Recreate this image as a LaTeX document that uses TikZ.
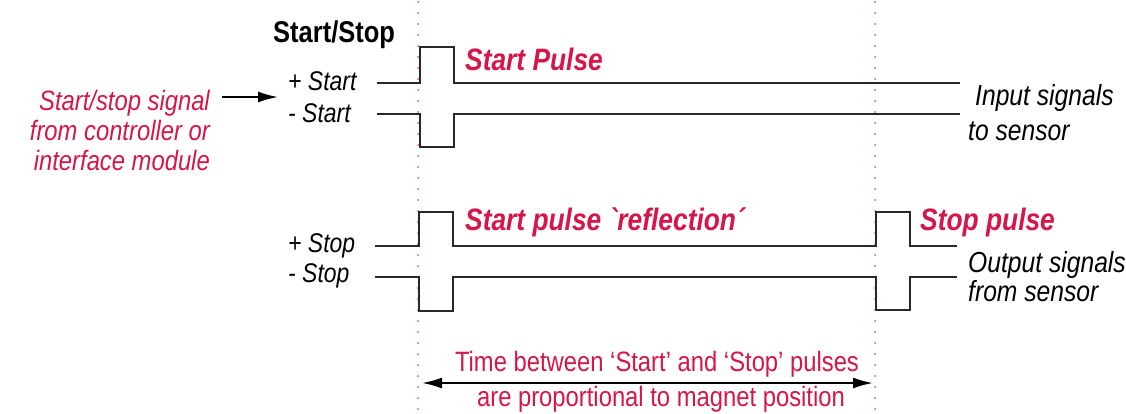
\documentclass[tikz,border=0pt]{standalone}
\usepackage{fontspec}
\setmainfont{Liberation Sans}[FakeStretch=0.85, Ligatures=TeXOff]
\usetikzlibrary{arrows.meta}
\definecolor{txtred}{RGB}{214,22,72}
\definecolor{dotred}{RGB}{228,80,125}
\definecolor{wave}{RGB}{40,40,40}
\tikzset{
  lbl/.style={font=\fontsize{27}{30}\selectfont\itshape, text=black, inner sep=0pt, anchor=base west},
  redlbl/.style={font=\fontsize{31}{33}\selectfont\bfseries\itshape, text=txtred, inner sep=0pt, anchor=base west},
  sidelbl/.style={font=\fontsize{28}{30}\selectfont\itshape, text=txtred, inner sep=0pt, anchor=base east},
  timelbl/.style={font=\fontsize{28}{30}\selectfont, text=txtred, inner sep=0pt, anchor=base},
  outlbl/.style={font=\fontsize{29}{30}\selectfont\itshape, text=black, inner sep=0pt, anchor=base west},
  wavey/.style={draw=wave, line width=2.2pt, line join=miter},
  guide/.style={draw=dotred, line width=2pt, dash pattern=on 0pt off 11pt, line cap=round},
  arr/.style={draw=black, line width=1.8pt, -{Latex[length=20pt,width=11pt]}},
  darr/.style={draw=black, line width=2pt, {Latex[length=20pt,width=11pt]}-{Latex[length=20pt,width=11pt]}},
}
\begin{document}
\begin{tikzpicture}[x=1pt,y=-1pt]
\useasboundingbox (0,0) rectangle (1126,413);
% guide lines
\draw[guide] (418,2) -- (418,413);
\draw[guide] (875,2) -- (875,413);
% title
\node[font=\fontsize{30}{32}\selectfont\bfseries, text=black, inner sep=0pt, anchor=base west] (title) at (273,42) {Start/Stop};
% start signals
\node[lbl] (pstart) at (288,90) {+ Start};
\node[lbl] (mstart) at (288,122) {- Start};
\draw[wavey] (377,83) -- (420,83) -- (420,47) -- (454,47) -- (454,83) -- (960,83);
\draw[wavey] (377,114) -- (420,114) -- (420,147) -- (454,147) -- (454,114) -- (960,114);
\node[redlbl] (startpulse) at (465,70) {Start Pulse};
% left text
\node[sidelbl] (side1) at (210,110) {Start/stop signal};
\node[sidelbl] (side2) at (210,140) {from controller or};
\node[sidelbl] (side3) at (210,170) {interface module};
\coordinate (a1) at (222,97);
\coordinate (a2) at (278,97);
\draw[arr] (a1) -- (a2);
% input text
\node[outlbl] (in1) at (975,105) {Input signals};
\node[outlbl] (in2) at (968,140) {to sensor};
% stop signals
\node[lbl] (pstop) at (288,252) {+ Stop};
\node[lbl] (mstop) at (288,282) {- Stop};
\draw[wavey] (375,246) -- (419,246) -- (419,212) -- (453,212) -- (453,246) -- (876,246) -- (876,212) -- (910,212) -- (910,246) -- (957,246);
\draw[wavey] (375,277) -- (419,277) -- (419,311) -- (453,311) -- (453,277) -- (876,277) -- (876,310) -- (910,310) -- (910,277) -- (957,277);
\node[redlbl] (refl) at (465,230) {Start pulse `reflection´};
\node[redlbl] (stoppulse) at (920,230) {Stop pulse};
\node[outlbl] (out1) at (968,272) {Output signals};
\node[outlbl] (out2) at (968,301) {from sensor};
% time arrow
\node[timelbl] (t1) at (657,371) {Time between ‘Start’ and ‘Stop’ pulses};
\node[timelbl] (t2) at (661,406) {are proportional to magnet position};
\coordinate (tl) at (422,383);
\coordinate (tr) at (873,383);
\draw[darr] (tl) -- (tr);
\end{tikzpicture}
\end{document}
